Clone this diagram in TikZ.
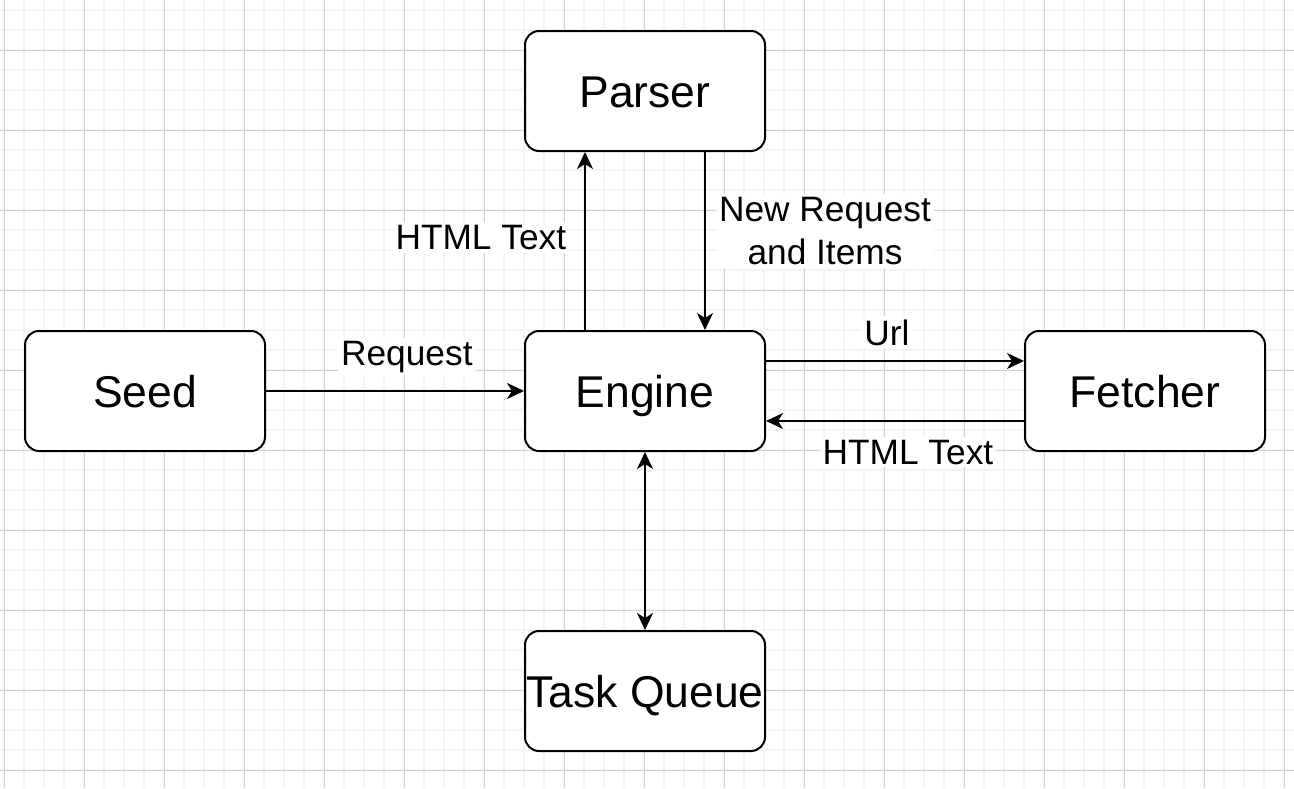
\documentclass[tikz,border=0pt]{standalone}
\usepackage{fontspec}
\setmainfont{Liberation Sans}
\usetikzlibrary{arrows.meta}
\definecolor{gridminor}{RGB}{244,244,244}
\definecolor{gridmajor}{RGB}{210,210,210}
\tikzset{%
  block/.style={draw, rectangle, rounded corners=14pt, line width=2pt, fill=white,
    minimum width=240pt, minimum height=120pt, inner sep=0pt,
    text height=32pt, text depth=0pt, font=\fontsize{44.5}{53}\selectfont},% component box
  flow/.style={line width=1.7pt},% connector
  lbl/.style={fill=white, inner sep=3pt, align=center,
    font=\fontsize{35.3}{43}\selectfont}% label on a connector
}

\begin{document}
\begin{tikzpicture}[x=1pt, y=-1pt, >={Stealth[length=17pt,width=16pt,inset=5pt]}]
\useasboundingbox[fill=white] (0,0) rectangle (1294,788);
% grid
\foreach \gx in {4,24,...,1294} \draw[gridminor, line width=1.8pt] (\gx,0) -- (\gx,788);
\foreach \gy in {10,30,...,788} \draw[gridminor, line width=1.8pt] (0,\gy) -- (1294,\gy);
\foreach \gx in {4,84,...,1294} \draw[gridmajor, line width=1pt] (\gx,0) -- (\gx,788);
\foreach \gy in {50,130,...,788} \draw[gridmajor, line width=1pt] (0,\gy) -- (1294,\gy);

\node[block] (parser) at (645,91) {Parser};
\node[block] (seed) at (145,391) {Seed};
\node[block] (engine) at (645,391) {Engine};
\node[block] (fetcher) at (1145,391) {Fetcher};
\node[block] (queue) at (645,691) {Task Queue};

\draw[flow] (seed) edge[->] node[lbl, pos=0.546, anchor=base, yshift=26pt] {Request} (engine);
\draw[flow] ([xshift=-60pt]engine.north) edge[->] node[lbl, pos=0.45, anchor=base east, xshift=-15pt] {HTML Text} ([xshift=-60pt]parser.south);
\draw[flow] ([xshift=60pt]parser.south) edge[->] node[lbl, pos=0.444, xshift=120pt] {New Request\\and Items} ([xshift=60pt]engine.north);
\draw[flow] ([yshift=30pt]engine.east) edge[->] node[lbl, pos=0.469, anchor=base, yshift=16pt] {Url} ([yshift=30pt]fetcher.west);
\draw[flow] ([yshift=-30pt]fetcher.west) edge[->] node[lbl, pos=0.45, anchor=base, yshift=-43pt] {HTML Text} ([yshift=-30pt]engine.east);
\draw[flow] (engine) edge[<->] (queue);
\end{tikzpicture}
\end{document}
